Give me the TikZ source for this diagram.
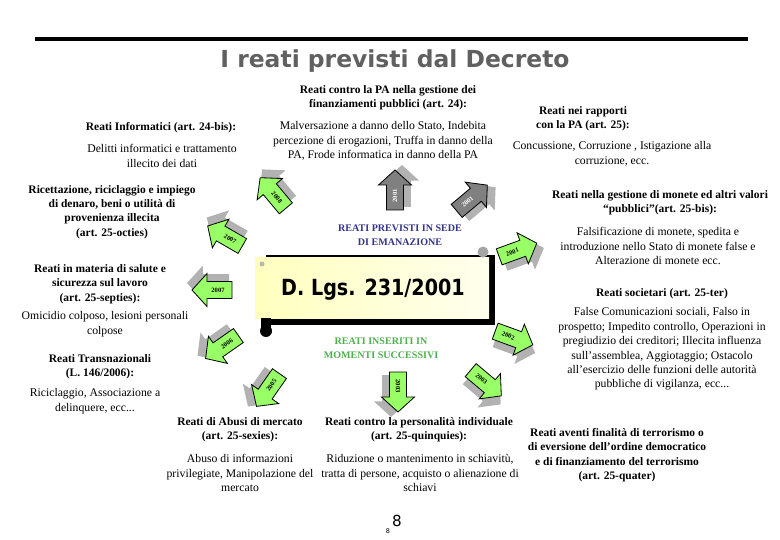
\documentclass[tikz,border=0pt]{standalone}
\usepackage{fontspec}
\usepackage{graphicx}
\setmainfont{Liberation Serif}
\newfontfamily\titlefont{DejaVu Sans}
\usetikzlibrary{shadings}
\definecolor{titlegray}{RGB}{96,96,96}
\definecolor{arrowgreen}{RGB}{153,255,102}
\definecolor{arrowgray}{RGB}{128,128,128}
\definecolor{shadowgray}{RGB}{165,165,165}
\definecolor{emblue}{RGB}{51,51,140}
\definecolor{emgreen}{RGB}{80,176,80}
\definecolor{scrollyellow}{RGB}{255,255,190}
\definecolor{scrollwhite}{RGB}{255,255,238}
\tikzset{
  body/.style={align=center,inner sep=0pt,font=\fontsize{10}{12.3}\selectfont},
  head/.style={align=center,inner sep=0pt,font=\fontsize{9.8}{12.3}\selectfont\bfseries},
  caps/.style={align=center,inner sep=0pt,font=\fontsize{8.6}{11.8}\selectfont\bfseries},
  yearlabel/.style={inner sep=0pt,font=\fontsize{5.6}{5.6}\selectfont\bfseries},
}
\newcommand\arrowpath{(-20,-8.5) -- (5,-8.5) -- (5,-16.5) -- (20,0) -- (5,16.5) -- (5,8.5) -- (-20,8.5) -- cycle}
% #1 x, #2 y, #3 angle, #4 fill, #5 label, #6 extra label rotation, #7 name
\newcommand\yeararrow[7]{%
  \begin{scope}[shift={(#1,#2)}]
    \begin{scope}[shift={({60-#3}:8)},rotate=#3,scale=1.05]
      \fill[shadowgray,opacity=0.85] \arrowpath;
    \end{scope}
    \begin{scope}[rotate=#3]
      \filldraw[fill=#4,draw=black,line width=0.7pt] \arrowpath;
      \node[yearlabel,transform shape,rotate=#6] (#7) at (-6,0) {#5};
    \end{scope}
  \end{scope}}
\begin{document}
\begin{tikzpicture}[x=0.03cm,y=-0.03cm]
\useasboundingbox (0,0) rectangle (780,540);
\fill[white] (0,0) rectangle (780,540);
% top rule and title
\draw[line width=3.4pt] (35,39) -- (748,39);
\node[inner sep=0pt,text=titlegray,font=\titlefont\bfseries\fontsize{20}{24}\selectfont] (title) at (395,61) {I reati previsti dal Decreto};

% central scroll
\fill[black] (266,255) rectangle (495,325);
\shade[left color=scrollyellow,right color=scrollwhite] (255,258) rectangle (489,319);
\fill[black] (261,318) rectangle (271,331);
\fill[black] (266,331) circle (6);
\fill[shadowgray] (483,252) circle (5.5);
\fill[shadowgray!80] (262,264) circle (2.5);
\node[inner sep=0pt,font=\titlefont\bfseries\fontsize{19}{22}\selectfont] (dlgs) at (373,290) {\scalebox{0.86}[1]{D. Lgs. 231/2001}};

\node[caps,text=emblue] (emanazione) at (400,235) {REATI PREVISTI IN SEDE\\DI EMANAZIONE};
\node[caps,text=emgreen] (successivi) at (381,348) {REATI INSERITI IN\\MOMENTI SUCCESSIVI};

% year arrows
\yeararrow{395}{190}{90}{arrowgray}{\textcolor{white}{2001}}{0}{y1}
\yeararrow{472}{198}{40}{arrowgray}{\textcolor{white}{2001}}{0}{y2}
\yeararrow{518}{250}{20}{arrowgreen}{2001}{0}{y3}
\yeararrow{514}{338}{-20}{arrowgreen}{2002}{0}{y4}
\yeararrow{486}{383}{-40}{arrowgreen}{2003}{0}{y5}
\yeararrow{398}{392}{-90}{arrowgreen}{2003}{0}{y6}
\yeararrow{268}{390}{235}{arrowgreen}{2005}{180}{y7}
\yeararrow{222}{347}{215}{arrowgreen}{2006}{180}{y8}
\yeararrow{212}{290}{180}{arrowgreen}{2007}{180}{y9}
\yeararrow{225}{236}{150}{arrowgreen}{2007}{180}{y10}
\yeararrow{273}{193}{130}{arrowgreen}{2008}{180}{y11}

% text blocks
\node[head] (pafin) at (388,98) {Reati contro la PA nella gestione dei\\finanziamenti pubblici (art. 24):};
\node[head] (inform) at (161,128) {Reati Informatici (art. 24-bis):};
\node[body] (informtxt) at (162,156) {Delitti informatici e trattamento\\illecito dei dati};
\node[body] (pafintxt) at (383,141) {Malversazione a danno dello Stato, Indebita\\percezione di erogazioni, Truffa in danno della\\PA, Frode informatica in danno della PA};
\node[head] (rapporti) at (583,119) {Reati nei rapporti\\con la PA (art. 25):};
\node[body] (rapportitxt) at (612,154) {Concussione, Corruzione , Istigazione alla\\corruzione, ecc.};
\node[head] (monete) at (660,203) {Reati nella gestione di monete ed altri valori\\“pubblici”(art. 25-bis):};
\node[body] (monetetxt) at (658,246) {Falsificazione di monete, spedita e\\introduzione nello Stato di monete false e\\Alterazione di monete ecc.};
\node[head] (societari) at (662,294) {Reati societari (art. 25-ter)};
\node[body] (societaritxt) at (662,349) {False Comunicazioni sociali, Falso in\\prospetto; Impedito controllo, Operazioni in\\pregiudizio dei creditori; Illecita influenza\\sull’assemblea, Aggiotaggio; Ostacolo\\all’esercizio delle funzioni delle autorità\\pubbliche di vigilanza, ecc...};
\node[head] (terror) at (617,455) {Reati aventi finalità di terrorismo o\\di eversione dell’ordine democratico\\e di finanziamento del terrorismo\\(art. 25-quater)};
\node[head] (person) at (419,430) {Reati contro la personalità individuale\\(art. 25-quinquies):};
\node[body] (persontxt) at (420,473) {Riduzione o mantenimento in schiavitù,\\tratta di persone, acquisto o alienazione di\\schiavi};
\node[head] (abusi) at (240,430) {Reati di Abusi di mercato\\(art. 25-sexies):};
\node[body] (abusitxt) at (240,473) {Abuso di informazioni\\privilegiate, Manipolazione del\\mercato};
\node[head] (ricett) at (112,212) {Ricettazione, riciclaggio e impiego\\di denaro, beni o utilità di\\provenienza illecita\\(art. 25-octies)};
\node[head] (salute) at (100,284) {Reati in materia di salute e\\sicurezza sul lavoro\\(art. 25-septies):};
\node[body] (salutetxt) at (105,324) {Omicidio colposo, lesioni personali\\colpose};
\node[head] (transn) at (100,367) {Reati Transnazionali\\(L. 146/2006):};
\node[body] (transntxt) at (95,401) {Riciclaggio, Associazione a\\delinquere, ecc...};

% page number
\node[inner sep=0pt,font=\titlefont\fontsize{13}{13}\selectfont] (pagenum) at (397,521) {8};
\node[inner sep=0pt,font=\titlefont\fontsize{5.5}{5.5}\selectfont] (pagesmall) at (388,531) {8};
\end{tikzpicture}
\end{document}
